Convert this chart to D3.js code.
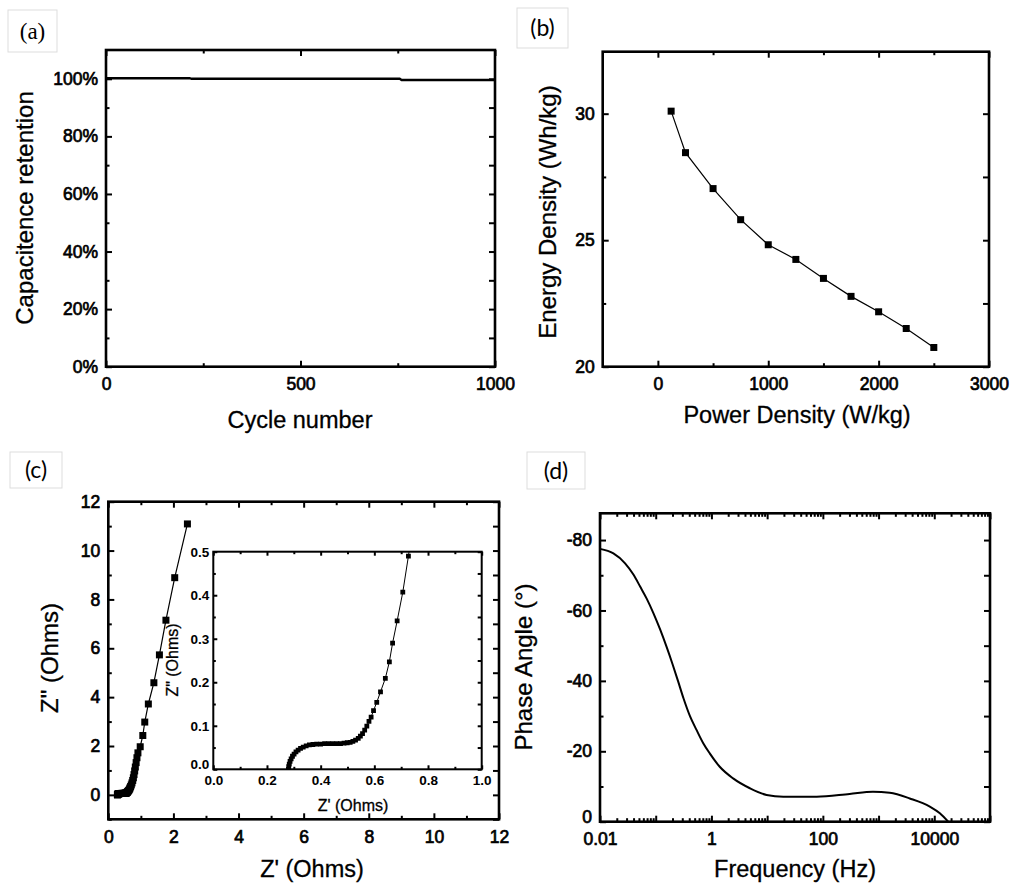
<!DOCTYPE html>
<html>
<head>
<meta charset="utf-8">
<script src="https://cdn.jsdelivr.net/npm/d3@7"></script>
<style>
  body { margin: 0; background: #fff; }
  svg text { font-family: Arial, "Liberation Sans", sans-serif; fill: #000; }
  .tick text { font-size: 17.5px; stroke: #000; stroke-width: 0.7px; }
  .inset .tick text { font-size: 13.5px; font-weight: bold; stroke: none; }
  .tick line { stroke: #000; stroke-width: 2px; }
  .title { stroke: #000; stroke-width: 0.3px; }
</style>
</head>
<body>
<script>
// (a) cycling stability
const cycles = [0, 215, 220, 755, 760, 1000];
const retention = [100.2, 100.2, 100, 100, 99.6, 99.6];

// (b) Ragone plot
const powerDensity = [120, 250, 500, 750, 1000, 1250, 1500, 1750, 2000, 2250, 2500];
const energyDensity = [30.1, 28.46, 27.04, 25.81, 24.82, 24.24, 23.49, 22.78, 22.17, 21.51, 20.76];

// (c) Nyquist plot, Z' and Z'' in Ohms
const zReal = [0.280, 0.281, 0.283, 0.286, 0.290, 0.295, 0.301, 0.308, 0.316, 0.325, 0.335, 0.346,
  0.358, 0.371, 0.385, 0.400, 0.415, 0.430, 0.445, 0.460, 0.474, 0.487, 0.499, 0.510, 0.520, 0.530,
  0.540, 0.548, 0.556, 0.564, 0.572, 0.580, 0.588, 0.597, 0.609, 0.623, 0.641, 0.656, 0.668, 0.685,
  0.706, 0.727, 0.75, 0.77, 0.79, 0.81, 0.83, 0.855, 0.88, 0.91, 0.98, 1.06, 1.12, 1.23, 1.40, 1.57,
  1.77, 2.04, 2.43];
const zImag = [0.000, 0.006, 0.012, 0.018, 0.024, 0.030, 0.035, 0.040, 0.044, 0.048, 0.051, 0.054,
  0.056, 0.057, 0.058, 0.058, 0.059, 0.059, 0.059, 0.059, 0.059, 0.060, 0.061, 0.062, 0.064, 0.067,
  0.071, 0.076, 0.082, 0.090, 0.099, 0.110, 0.120, 0.135, 0.154, 0.178, 0.209, 0.247, 0.290, 0.341,
  0.407, 0.490, 0.59, 0.70, 0.83, 0.98, 1.14, 1.32, 1.52, 1.72, 1.97, 2.43, 2.98, 3.72, 4.59, 5.73,
  7.15, 8.89, 11.09];

// (d) Bode phase plot
const freqHz = [0.01, 0.0174, 0.0282, 0.0398, 0.0525, 0.0692, 0.0912, 0.120, 0.158, 0.200, 0.251,
  0.316, 0.412, 0.543, 0.713, 0.933, 1.41, 2.45, 4.90, 9.77, 19.5, 77.6, 302, 794, 1585, 3631, 8318,
  12589, 17783];
const phaseDeg = [-77.5, -76.2, -73.4, -70.2, -66.8, -63.3, -59.2, -54.6, -49.5, -44.8, -40.0,
  -35.0, -30.0, -26.0, -22.3, -19.4, -15.6, -12.3, -9.5, -7.6, -7.1, -7.1, -7.9, -8.5, -8.2, -6.6,
  -4.3, -2.4, 0];

const svg = d3.select("body").append("svg").attr("width", 1011).attr("height", 884);
svg.append("rect").attr("width", 1011).attr("height", 884).attr("fill", "#fff");

// frame with inward ticks on all four sides
function frame(g, x, y, o) {
  const w = x.range()[1] - x.range()[0], h = y.range()[0] - y.range()[1];
  const big = o.big || 6, small = o.small || 3.5;
  const strip = s => s.call(a => a.select(".domain").remove());
  strip(g.append("g").attr("class", "xax").attr("transform", `translate(0,${h})`)
    .call(d3.axisBottom(x).tickValues(o.xMajor).tickSize(-big).tickPadding(o.xPad).tickFormat(o.xFmt)));
  strip(g.append("g").attr("transform", `translate(0,${h})`)
    .call(d3.axisBottom(x).tickValues(o.xMinor).tickSize(-small).tickFormat("")));
  strip(g.append("g").call(d3.axisTop(x).tickValues(o.xMajor).tickSize(-big).tickFormat("")));
  strip(g.append("g").call(d3.axisTop(x).tickValues(o.xMinor).tickSize(-small).tickFormat("")));
  strip(g.append("g").attr("class", "yax")
    .call(d3.axisLeft(y).tickValues(o.yMajor).tickSize(-big).tickPadding(o.yPad).tickFormat(o.yFmt)));
  strip(g.append("g").call(d3.axisLeft(y).tickValues(o.yMinor).tickSize(-small).tickFormat("")));
  strip(g.append("g").attr("transform", `translate(${w},0)`)
    .call(d3.axisRight(y).tickValues(o.yMajor.concat(o.yMinor)).tickSize(-big).tickFormat("")));
  g.append("rect").attr("width", w).attr("height", h)
    .attr("fill", "none").attr("stroke", "#000").attr("stroke-width", o.sw || 2.6);
}

function ylabel(x, y, t, size) {
  svg.append("text").attr("class", "title").attr("transform", `translate(${x},${y}) rotate(-90)`)
    .attr("text-anchor", "middle").style("font-size", size + "px").text(t);
}
function xlabel(x, y, t, size) {
  svg.append("text").attr("class", "title").attr("x", x).attr("y", y)
    .attr("text-anchor", "middle").style("font-size", size + "px").text(t);
}
function tag(x, y, w, h, t, family) {
  svg.append("rect").attr("x", x).attr("y", y).attr("width", w).attr("height", h)
    .attr("fill", "#fff").attr("stroke", "#ddd").attr("stroke-width", 1);
  svg.append("text").attr("x", x + w / 2).attr("y", y + h / 2 + 8).attr("text-anchor", "middle")
    .style("font-family", family).style("font-size", "23px").text(t);
}
const sq = s => d3.symbol(d3.symbolSquare, s * s);
const plain = d => String(d);

// ---------- (a)
{
  const x = d3.scaleLinear().domain([0, 1000]).range([0, 389]);
  const y = d3.scaleLinear().domain([0, 110]).range([316.7, 0]);
  const g = svg.append("g").attr("transform", "translate(106,50)");
  frame(g, x, y, {
    xMajor: [0, 500, 1000], xMinor: [250, 750], xPad: 11, xFmt: plain,
    yMajor: [0, 20, 40, 60, 80, 100], yMinor: [10, 30, 50, 70, 90], yPad: 8, yFmt: d => d + "%"
  });
  const pts = cycles.map((c, i) => [c, retention[i]]);
  g.append("path").attr("d", d3.line().x(d => x(d[0])).y(d => y(d[1]))(pts))
    .attr("fill", "none").attr("stroke", "#000").attr("stroke-width", 2.4);
  ylabel(33, 208, "Capacitence retention", 24);
  xlabel(300, 428, "Cycle number", 23.5);
  tag(8, 10, 49, 42, "(a)", "Liberation Serif");
}

// ---------- (b)
{
  const x = d3.scaleLinear().domain([-500, 3000]).range([0, 386.3]);
  const y = d3.scaleLinear().domain([20, 32.45]).range([315, 0]);
  const g = svg.append("g").attr("transform", "translate(602.7,51.7)");
  frame(g, x, y, {
    xMajor: [0, 1000, 2000, 3000], xMinor: [500, 1500, 2500], xPad: 11, xFmt: plain,
    yMajor: [20, 25, 30], yMinor: [22.5, 27.5], yPad: 8, yFmt: plain
  });
  const pts = powerDensity.map((p, i) => [p, energyDensity[i]]);
  g.append("path").attr("d", d3.line().x(d => x(d[0])).y(d => y(d[1]))(pts))
    .attr("fill", "none").attr("stroke", "#000").attr("stroke-width", 1.2);
  g.selectAll(".pt").data(pts).join("path")
    .attr("transform", d => `translate(${x(d[0])},${y(d[1])})`).attr("d", sq(7)).attr("fill", "#000");
  ylabel(556, 212, "Energy Density (Wh/kg)", 24);
  xlabel(797, 423, "Power Density (W/kg)", 23.5);
  tag(517, 8, 51, 40, "(b)", "Lato");
}

// ---------- (c)
{
  const x = d3.scaleLinear().domain([0, 12]).range([0, 390.7]);
  const y = d3.scaleLinear().domain([-1, 12]).range([317.6, 0]);
  const g = svg.append("g").attr("transform", "translate(108.3,501.7)");
  frame(g, x, y, {
    xMajor: [0, 2, 4, 6, 8, 10, 12], xMinor: [1, 3, 5, 7, 9, 11], xPad: 11, xFmt: plain,
    yMajor: [0, 2, 4, 6, 8, 10, 12], yMinor: [-1, 1, 3, 5, 7, 9, 11], yPad: 8, yFmt: plain
  });
  const pts = zReal.map((r, i) => [r, zImag[i]]);
  g.append("path").attr("d", d3.line().x(d => x(d[0])).y(d => y(d[1]))(pts))
    .attr("fill", "none").attr("stroke", "#000").attr("stroke-width", 1.2);
  g.selectAll(".pt").data(pts).join("path")
    .attr("transform", d => `translate(${x(d[0])},${y(d[1])})`).attr("d", sq(7)).attr("fill", "#000");
  ylabel(58, 658, 'Z" (Ohms)', 24);
  xlabel(312, 877, "Z' (Ohms)", 23.5);
  tag(10, 452, 52, 36, "(c)", "Lato");

  // inset
  const ix = d3.scaleLinear().domain([0, 1]).range([0, 268.4]);
  const iy = d3.scaleLinear().domain([0, 0.5]).range([217.6, 0]);
  const ig = svg.append("g").attr("class", "inset").attr("transform", "translate(213.3,551.7)");
  svg.append("clipPath").attr("id", "insetClip").append("rect").attr("width", 268.4).attr("height", 217.6);
  ig.append("rect").attr("width", 268.4).attr("height", 217.6).attr("fill", "#fff");
  const ipts = pts.filter(d => d[1] <= 0.5);
  const dg = ig.append("g").attr("clip-path", "url(#insetClip)");
  dg.append("path").attr("d", d3.line().x(d => ix(d[0])).y(d => iy(d[1]))(pts.filter(d => d[1] <= 0.7)))
    .attr("fill", "none").attr("stroke", "#000").attr("stroke-width", 1);
  dg.selectAll(".pt").data(ipts).join("path")
    .attr("transform", d => `translate(${ix(d[0])},${iy(d[1])})`).attr("d", sq(4.8)).attr("fill", "#000");
  frame(ig, ix, iy, {
    big: 4, small: 2.5, sw: 2,
    xMajor: [0, 0.2, 0.4, 0.6, 0.8, 1.0], xMinor: [0.1, 0.3, 0.5, 0.7, 0.9], xPad: 6, xFmt: d3.format(".1f"),
    yMajor: [0, 0.1, 0.2, 0.3, 0.4, 0.5], yMinor: [0.05, 0.15, 0.25, 0.35, 0.45], yPad: 4, yFmt: d3.format(".1f")
  });
  // keep the two "0.0" labels at the corner apart
  ig.select(".yax").selectAll(".tick text").filter(d => d === 0).attr("dy", "-0.05em");
  ylabel(178, 660, 'Z" (Ohms)', 16);
  xlabel(353, 811, "Z' (Ohms)", 16);
}

// ---------- (d)
{
  const x = d3.scaleLog().domain([0.01, 1e5]).range([0, 390]);
  const y = d3.scaleLinear().domain([0, -87.6]).range([308.4, 0]);
  const g = svg.append("g").attr("transform", "translate(600,513.3)");
  const decades = d3.range(-2, 6).map(e => Math.pow(10, e));
  const minors = [];
  decades.slice(0, -1).forEach(d => { for (let k = 2; k <= 9; k++) minors.push(d * k); });
  const shown = [0.01, 1, 100, 10000];
  frame(g, x, y, {
    xMajor: decades, xMinor: minors, xPad: 11, xFmt: d => shown.includes(d) ? String(d) : "",
    yMajor: [0, -20, -40, -60, -80], yMinor: [-10, -30, -50, -70], yPad: 8, yFmt: plain
  });
  // lift the "0" label a little off the corner, as in the original
  g.select(".yax").selectAll(".tick text").filter(d => d === 0).attr("dy", "0.05em");
  const pts = freqHz.map((f, i) => [f, phaseDeg[i]]);
  g.append("path").attr("d", d3.line().x(d => x(d[0])).y(d => y(d[1])).curve(d3.curveMonotoneX)(pts))
    .attr("fill", "none").attr("stroke", "#000").attr("stroke-width", 2);
  ylabel(532, 667, "Phase Angle (°)", 24);
  xlabel(795, 877, "Frequency (Hz)", 23.5);
  tag(527, 452, 58, 37, "(d)", "Lato");
}
</script>
</body>
</html>
